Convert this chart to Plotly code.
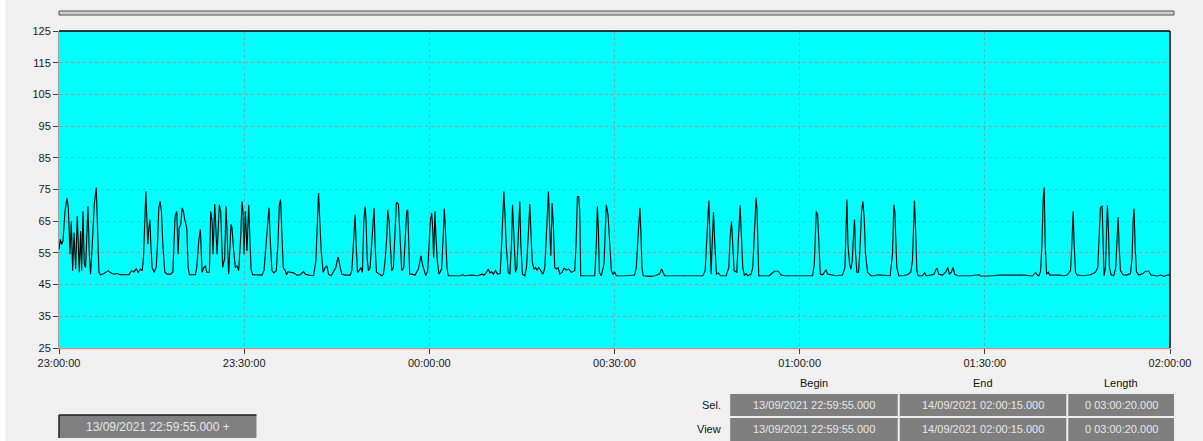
import plotly.graph_objects as go
import pandas as pd

# ---- data (minutes after 23:00:00, value) ----
minutes = [
    0.00, 0.22, 0.43, 0.65, 0.97, 1.29, 1.51, 1.78, 1.99, 2.21,
    2.43, 2.70, 2.96, 3.13, 3.29, 3.50, 3.67, 3.88, 4.10, 4.31,
    4.53, 4.69, 4.91, 5.12, 5.39, 5.71, 6.04, 6.25, 6.47, 6.74,
    7.28, 7.98, 8.36, 8.89, 9.43, 9.97, 10.78, 11.32, 11.75, 12.13,
    12.51, 12.83, 13.21, 13.48, 13.69, 13.91, 14.07, 14.23, 14.39, 14.56,
    14.72, 14.88, 15.09, 15.42, 15.74, 15.96, 16.17, 16.39, 16.60, 16.82,
    17.14, 17.52, 18.06, 18.44, 18.65, 18.81, 19.08, 19.30, 19.46, 19.73,
    19.95, 20.16, 20.38, 20.70, 20.92, 21.13, 22.10, 22.32,
    22.64, 22.91, 23.18, 23.45, 23.72, 23.94, 24.37, 24.58, 24.80, 24.96,
    25.23, 25.61, 25.98, 26.20, 26.52, 26.85, 27.06, 27.28, 27.49, 27.87,
    28.03, 28.30, 28.57, 28.84, 29.11, 29.43, 29.65, 29.81, 29.97, 30.19,
    30.46, 30.73, 30.89, 31.11, 31.37, 32.08, 32.88, 33.21, 33.53, 33.80,
    34.02, 34.23, 34.50, 34.82, 35.20, 35.47, 35.69, 35.90, 36.12, 36.33,
    36.66, 36.87, 37.09, 37.47, 38.01, 38.54, 39.08, 39.62, 39.89, 40.43,
    41.24, 41.62, 41.83, 42.05, 42.26, 42.48, 42.80, 43.13, 43.40, 43.67,
    44.10, 44.47, 44.85, 45.17,
    45.28, 45.55, 45.82, 46.36, 47.17, 47.44, 47.71, 47.98, 48.14, 48.36,
    48.63, 48.89, 49.16, 49.38, 49.60, 49.76, 49.92, 50.13, 50.40, 50.67,
    50.89, 51.05, 51.21, 51.43, 51.75, 52.29, 52.56, 52.83, 53.10, 53.26,
    53.48, 53.69, 53.91, 54.18, 54.45, 54.66, 54.99, 55.20, 55.53, 55.85,
    56.06, 56.33, 56.50, 56.66, 56.82, 57.14, 57.68, 58.22, 58.49, 58.65,
    58.87, 59.19, 59.41, 59.73, 59.95, 60.16, 60.38, 60.54, 60.70, 60.92,
    61.08, 61.29, 61.56, 61.99, 62.26, 62.43, 62.64, 62.86, 63.07, 63.88,
    64.96, 65.34, 65.77, 66.85,
    67.92, 68.46, 68.89, 69.27, 69.54, 69.81, 70.08, 70.35, 70.73, 71.05,
    71.48, 71.70, 71.91, 72.07, 72.24, 72.45, 72.78, 73.05, 73.31, 73.48,
    73.64, 73.80, 73.96, 74.18, 74.34, 74.50, 74.66, 74.82, 75.09, 75.47,
    75.74, 76.01, 76.28, 76.44, 76.66, 76.93, 77.20, 77.41, 77.74, 78.06,
    78.44, 78.71, 78.97, 79.14, 79.30, 79.46, 79.68, 79.89, 80.11, 80.32,
    80.59, 80.86, 81.13, 81.51, 81.83, 82.21, 82.59, 83.02, 83.56, 83.77,
    83.99, 84.20, 84.37, 84.53, 84.90, 85.71, 86.79, 87.06, 87.22, 87.38,
    87.55, 87.87, 88.30, 88.52, 88.68, 88.95, 89.22, 89.49, 89.76, 90.03,
    90.30,
    90.57, 91.10, 91.91, 93.26, 93.53, 93.80, 93.96, 94.12, 94.29, 94.45,
    94.66, 95.69, 96.50, 97.30, 97.63, 97.90, 98.11, 100.27, 102.43, 104.31,
    104.69, 105.01, 105.28, 105.50, 105.66, 105.82, 106.04, 106.25, 106.52, 106.85,
    107.17, 108.09, 108.52, 108.73, 108.95, 109.16, 109.38, 109.81, 110.08, 110.35,
    110.51, 110.78, 111.05, 111.32, 111.59, 112.13, 112.40, 112.67, 112.94, 113.10,
    113.21,
    113.37, 113.75, 115.09, 115.47, 115.90, 116.55, 116.98, 117.52, 119.68, 122.10,
    122.37, 122.53, 122.69, 122.91, 123.13, 123.34, 123.72, 124.10, 124.26, 124.53,
    125.07, 125.87, 126.95, 127.33, 127.55, 127.65, 127.82, 128.09, 128.30, 128.52,
    128.73, 128.89, 129.06, 129.27, 129.54, 129.76, 130.03, 130.24, 130.46, 130.67,
    131.00, 131.54, 132.07, 132.61, 133.15, 133.96, 134.66, 135.04, 135.26, 135.42,
    135.58, 135.74,
    136.06, 136.66, 137.47, 138.00, 138.27, 138.44, 138.60, 138.81, 138.98, 139.19,
    139.89, 140.27, 140.48, 141.24, 141.78, 142.05, 142.26, 142.53, 143.12, 143.66,
    143.99, 144.26, 144.58, 144.85, 145.12, 145.55, 147.71, 149.06, 149.33, 150.40,
    151.48, 152.56, 156.33, 157.68, 158.06, 158.22, 158.49,
    158.76, 159.03, 159.25, 159.46, 159.62, 159.78, 160.00, 160.27, 160.54, 161.99,
    162.80, 163.34, 163.88, 164.10, 164.31, 164.47, 164.69, 164.96, 166.04, 167.11,
    167.92, 168.30, 168.51, 168.73, 169.00, 169.16, 169.32, 169.54, 169.70, 169.86,
    170.03, 170.19, 170.46, 170.89, 171.21, 171.43, 171.59, 171.75, 171.97, 172.40,
    172.94, 173.59, 173.85, 174.02, 174.18, 174.34, 174.56, 174.93, 175.63, 176.01,
    176.55, 176.93, 177.90, 178.54, 178.98, 179.62, 180.16,
]

values = [
    56.1, 59.3, 57.7, 58.8, 68.1, 72.3, 69.2, 54.6, 65.0, 49.4,
    61.4, 49.9, 66.6, 57.7, 48.9, 61.9, 49.4, 68.1, 51.5, 50.4,
    65.0, 69.7, 54.6, 48.3, 57.7, 70.2, 75.6, 59.8, 48.9, 48.1,
    48.5, 49.4, 48.7, 48.3, 48.5, 48.1, 48.1, 48.1, 49.4, 49.0,
    50.0, 48.9, 49.9, 49.4, 53.5, 65.0, 74.4, 66.0, 57.7, 62.9,
    65.5, 57.7, 50.4, 48.9, 50.4, 57.7, 69.2, 71.3, 68.1, 57.7,
    48.9, 48.3, 48.3, 48.9, 59.8, 66.6, 68.1, 54.6, 62.9, 64.0,
    69.2, 68.1, 65.5, 62.9, 50.4, 48.1, 48.1, 50.4,
    58.8, 62.4, 48.9, 50.4, 50.9, 48.9, 48.9, 68.1, 65.0, 54.6,
    70.4, 54.6, 70.2, 68.1, 50.4, 53.5, 69.7, 57.7, 48.3, 64.0,
    62.9, 55.6, 50.4, 50.9, 49.4, 59.8, 71.3, 68.1, 54.6, 68.1,
    55.6, 70.2, 59.8, 49.9, 48.1, 48.0, 48.0, 49.4, 57.7, 65.0,
    69.2, 58.8, 49.4, 48.7, 49.4, 57.7, 70.2, 71.8, 62.9, 50.4,
    49.4, 48.1, 49.1, 48.9, 48.7, 48.0, 48.1, 49.1, 48.3, 48.0,
    47.8, 52.5, 66.0, 73.9, 65.0, 55.6, 48.9, 50.4, 50.9, 48.3,
    47.8, 48.9, 50.4, 53.5,
    53.5, 50.4, 48.3, 48.0, 48.0, 49.4, 57.7, 67.1, 57.7, 48.9,
    49.4, 50.4, 48.9, 65.0, 69.7, 65.0, 53.5, 49.4, 50.4, 57.7,
    65.0, 69.2, 57.7, 48.9, 48.5, 47.8, 48.3, 52.5, 59.8, 68.6,
    65.0, 54.6, 49.4, 50.4, 65.0, 71.0, 70.4, 62.9, 49.4, 50.4,
    57.7, 68.1, 68.6, 57.7, 48.3, 48.3, 48.0, 49.9, 53.5, 54.1,
    51.5, 49.4, 47.8, 49.4, 57.7, 65.0, 67.6, 62.9, 53.5, 68.1,
    59.8, 52.5, 48.3, 49.9, 60.8, 69.0, 60.8, 50.4, 47.8, 47.8,
    47.8, 48.1, 47.8, 48.0,
    47.8, 48.3, 48.0, 48.9, 49.9, 48.7, 49.1, 48.3, 49.4, 48.3,
    48.5, 57.2, 68.1, 74.4, 68.1, 57.7, 48.9, 48.3, 57.7, 70.2,
    62.9, 53.5, 48.9, 50.4, 58.8, 68.6, 71.3, 57.7, 48.3, 47.8,
    50.4, 59.8, 70.4, 62.9, 52.5, 49.9, 50.4, 49.6, 50.4, 49.4,
    48.3, 50.4, 62.9, 69.2, 74.4, 65.0, 54.1, 70.7, 62.9, 50.4,
    49.9, 50.4, 48.3, 48.9, 50.2, 49.6, 49.9, 48.9, 49.4, 57.7,
    72.8, 72.8, 68.1, 47.8, 47.8, 47.8, 47.8, 57.7, 69.7, 62.9,
    48.9, 47.8, 51.5, 62.9, 70.2, 67.1, 57.7, 49.4, 48.3, 48.9,
    47.8,
    47.8, 47.6, 47.8, 48.0, 50.4, 59.8, 67.1, 69.2, 60.8, 50.4,
    47.8, 47.6, 47.8, 48.3, 49.9, 48.3, 47.8, 47.8, 47.8, 47.8,
    49.4, 62.9, 71.5, 57.7, 48.3, 57.7, 67.9, 57.7, 48.3, 48.7,
    47.8, 47.8, 50.4, 59.8, 65.0, 57.7, 49.4, 48.9, 59.8, 70.0,
    62.9, 50.4, 47.8, 48.5, 47.8, 48.3, 50.4, 64.0, 72.5, 68.1,
    59.8,
    47.8, 47.8, 47.8, 48.5, 49.2, 49.2, 48.1, 47.8, 47.8, 47.8,
    51.5, 62.9, 68.1, 67.1, 55.6, 48.3, 48.1, 49.4, 49.7, 48.3,
    48.0, 47.8, 48.0, 50.4, 65.0, 71.8, 57.7, 51.5, 49.9, 52.5,
    60.8, 65.5, 54.6, 48.9, 48.9, 55.6, 68.1, 71.3, 66.0, 54.6,
    48.9, 47.8, 47.8, 48.1, 48.0, 47.8, 47.8, 54.6, 70.2, 68.1,
    59.8, 50.4,
    47.8, 47.8, 48.1, 48.9, 52.5, 59.8, 71.5, 60.8, 49.4, 47.8,
    47.8, 48.7, 47.8, 48.0, 48.3, 49.6, 50.2, 48.3, 48.0, 48.9,
    50.4, 48.3, 48.9, 50.4, 48.3, 47.8, 47.8, 48.1, 47.7, 47.7,
    47.9, 48.0, 48.0, 47.7, 48.5, 48.8, 48.1,
    47.8, 49.2, 57.7, 72.3, 75.6, 57.7, 48.3, 48.9, 48.0, 48.0,
    47.8, 48.0, 49.4, 57.7, 68.1, 57.7, 48.9, 48.0, 47.8, 48.1,
    48.9, 50.4, 62.9, 69.4, 69.7, 57.7, 47.8, 50.4, 62.9, 70.0,
    61.9, 50.4, 48.1, 47.8, 50.4, 60.8, 66.3, 57.7, 49.4, 48.1,
    48.0, 48.5, 53.5, 65.0, 69.0, 57.7, 49.1, 48.0, 48.5, 49.2,
    49.2, 48.0, 47.7, 48.0, 47.6, 48.0, 48.1,
]

y_ticks = [25, 35, 45, 55, 65, 75, 85, 95, 105, 115, 125]
x_tick_minutes = [0, 30, 60, 90, 120, 150, 180]
start_time = "2021-09-13 23:00:00"

table_cols = ["Begin", "End", "Length"]
table_rows = ["Sel.", "View"]
table_cells = [
    ["13/09/2021 22:59:55.000", "14/09/2021 02:00:15.000", "0 03:00:20.000"],
    ["13/09/2021 22:59:55.000", "14/09/2021 02:00:15.000", "0 03:00:20.000"],
]
cursor_label = "13/09/2021 22:59:55.000 +"

assert len(minutes) == len(values)

# ---- figure ----
W, H = 1203, 441
L, R, T, B = 59, 1173, 31, 348   # plot area in pixels


def pxx(px):
    return (px - L) / (R - L)


def pxy(py):
    return (B - py) / (B - T)


base = pd.Timestamp(start_time)
times = base + pd.to_timedelta(minutes, unit="min")
tickvals = [base + pd.Timedelta(minutes=m) for m in x_tick_minutes]

FONT = "Liberation Sans, Arial, sans-serif"

fig = go.Figure(
    go.Scatter(
        x=times, y=values, mode="lines",
        line=dict(color="black", width=1.1),
        hoverinfo="skip", showlegend=False,
    )
)

shapes = []
annotations = []

# white strip at the left of the window
shapes.append(dict(type="rect", xref="paper", yref="paper",
                   x0=pxx(0), x1=pxx(5), y0=pxy(H), y1=pxy(0),
                   fillcolor="white", line=dict(width=0), layer="below"))
# plot borders (top and right black)
shapes.append(dict(type="line", xref="paper", yref="paper",
                   x0=0, x1=1, y0=1, y1=1, line=dict(color="black", width=1.5)))
shapes.append(dict(type="line", xref="paper", yref="paper",
                   x0=1, x1=1, y0=0, y1=1, line=dict(color="black", width=1.5)))
# scroll bar above the plot
shapes.append(dict(type="rect", xref="paper", yref="paper",
                   x0=pxx(59), x1=pxx(1177), y0=pxy(15), y1=pxy(11),
                   fillcolor="#d0d0d0", line=dict(color="#505050", width=1)))

# cursor box bottom-left
shapes.append(dict(type="rect", xref="paper", yref="paper",
                   x0=pxx(59), x1=pxx(257), y0=pxy(438), y1=pxy(415),
                   fillcolor="#808080", line=dict(width=0)))
shapes.append(dict(type="line", xref="paper", yref="paper",
                   x0=pxx(59), x1=pxx(257), y0=pxy(415), y1=pxy(415),
                   line=dict(color="#202020", width=1.5)))
shapes.append(dict(type="line", xref="paper", yref="paper",
                   x0=pxx(59), x1=pxx(59), y0=pxy(438), y1=pxy(415),
                   line=dict(color="#202020", width=1.5)))
annotations.append(dict(xref="paper", yref="paper", x=pxx(158), y=pxy(427),
                        text=cursor_label, showarrow=False,
                        xanchor="center", yanchor="middle",
                        font=dict(family=FONT, size=12, color="#e6e6e6")))

# info table bottom-right
col_x = [(732, 900), (902, 1069), (1071, 1177)]
row_y = [(394, 416), (418, 441)]
for j, name in enumerate(table_cols):
    cx = (col_x[j][0] + col_x[j][1]) / 2
    annotations.append(dict(xref="paper", yref="paper", x=pxx(cx), y=pxy(383),
                            text=name, showarrow=False,
                            xanchor="center", yanchor="middle",
                            font=dict(family=FONT, size=11, color="#111111")))
for i, rname in enumerate(table_rows):
    cy = (row_y[i][0] + min(row_y[i][1], 439)) / 2
    annotations.append(dict(xref="paper", yref="paper", x=pxx(725), y=pxy(cy),
                            text=rname, showarrow=False,
                            xanchor="right", yanchor="middle",
                            font=dict(family=FONT, size=11, color="#111111")))
    for j in range(len(table_cols)):
        shapes.append(dict(type="rect", xref="paper", yref="paper",
                           x0=pxx(col_x[j][0]), x1=pxx(col_x[j][1]),
                           y0=pxy(row_y[i][1]), y1=pxy(row_y[i][0]),
                           fillcolor="#7f7f7f", line=dict(width=0)))
        cx = (col_x[j][0] + col_x[j][1]) / 2
        annotations.append(dict(xref="paper", yref="paper", x=pxx(cx), y=pxy(cy),
                                text=table_cells[i][j], showarrow=False,
                                xanchor="center", yanchor="middle",
                                font=dict(family=FONT, size=11, color="#e6e6e6")))

axis_common = dict(
    showgrid=True, gridcolor="#9a9a9a", griddash="dot", gridwidth=1,
    ticks="outside", ticklen=5, tickcolor="#404040", tickwidth=1,
    zeroline=False, showline=True, linewidth=1,
    tickfont=dict(family=FONT, size=11, color="#1a1a1a"),
    fixedrange=True,
)

fig.update_layout(
    width=W, height=H, autosize=False,
    margin=dict(l=L, r=W - R, t=T, b=H - B, pad=0),
    paper_bgcolor="#f0f0f0", plot_bgcolor="#00ffff",
    xaxis=dict(type="date", range=[tickvals[0], tickvals[-1]],
               tickvals=tickvals, tickformat="%H:%M:%S",
               linecolor="#f08080", **axis_common),
    yaxis=dict(range=[25, 125], tickvals=y_ticks,
               linecolor="#a0a0a0", **axis_common),
    shapes=shapes, annotations=annotations,
    showlegend=False,
)

fig.write_html(
    "out.html",
    config={"displayModeBar": False},
    post_script="document.body.style.margin='0';"
                "document.body.style.overflow='hidden';"
                "document.body.style.background='#f0f0f0';",
)
